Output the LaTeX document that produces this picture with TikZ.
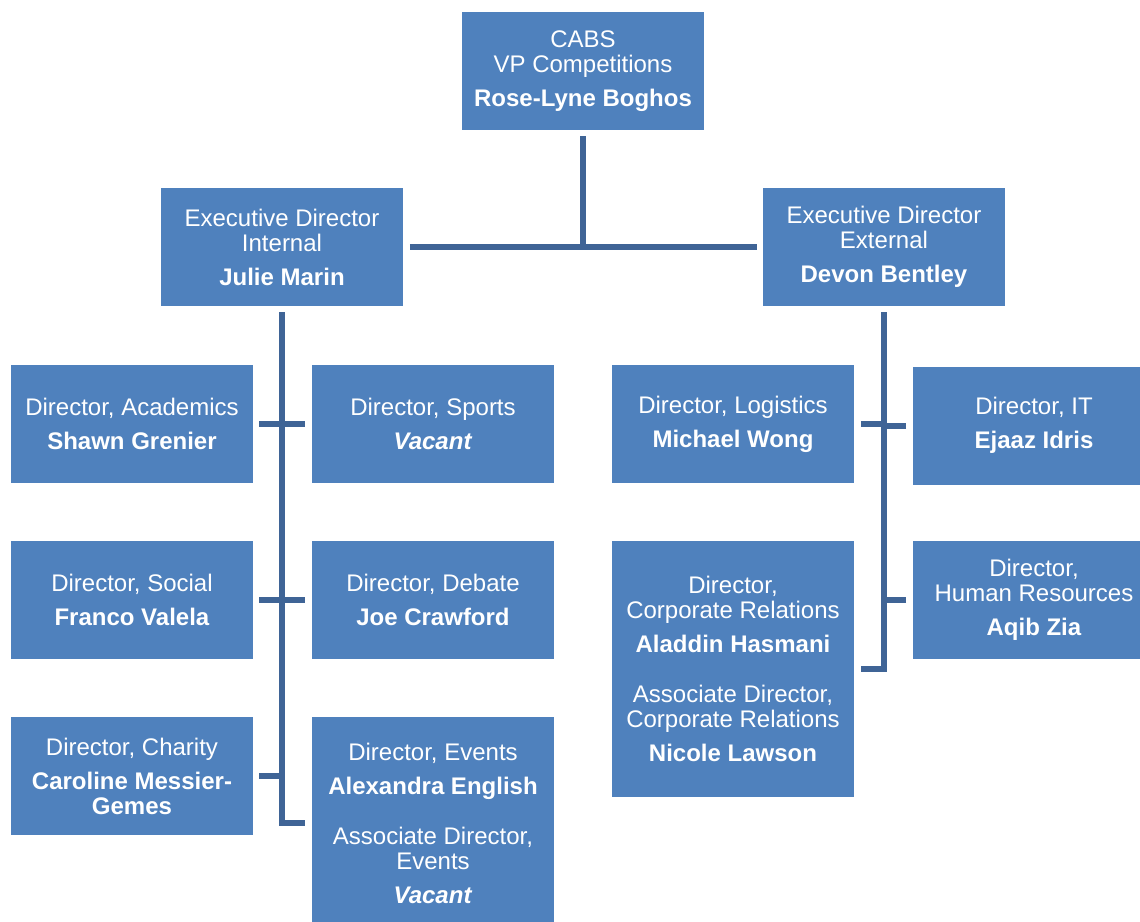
\documentclass[tikz,border=0pt]{standalone}
\usepackage{fontspec}
\setmainfont{Liberation Sans}
\definecolor{boxblue}{RGB}{79,129,189}
\definecolor{linkblue}{RGB}{63,100,150}
\tikzset{
  orgbox/.style={fill=boxblue, minimum width=181.5pt, minimum height=88.5pt, inner sep=0pt,
    text=white, align=center, font=\fontsize{18}{18.75}\selectfont},
  conn/.style={draw=linkblue, line width=4.5pt}
}
\begin{document}
\begin{tikzpicture}[x=0.75pt,y=-0.75pt]
\useasboundingbox (0,0) rectangle (1140,922);
\node[orgbox] (cabs) at (583,71) {CABS\\VP Competitions\\[6.75pt]\textbf{Rose-Lyne Boghos}};
\node[orgbox] (eint) at (282,247) {Executive Director\\Internal\\[6.75pt]\textbf{Julie Marin}};
\node[orgbox] (eext) at (884,247) {Executive Director\\External\\[6.75pt]\textbf{Devon Bentley}};
\node[orgbox] (acad) at (132,424) {Director, Academics\\[6.75pt]\textbf{Shawn Grenier}};
\node[orgbox] (sports) at (433,424) {Director, Sports\\[6.75pt]\textbf{\textit{Vacant}}};
\node[orgbox] (social) at (132,600) {Director, Social\\[6.75pt]\textbf{Franco Valela}};
\node[orgbox] (debate) at (433,600) {Director, Debate\\[6.75pt]\textbf{Joe Crawford}};
\node[orgbox] (charity) at (132,776) {Director, Charity\\[6.75pt]\textbf{Caroline Messier-}\\\textbf{Gemes}};
\node[orgbox, minimum height=159pt] (events) at (433,823) {Director, Events\\[6.75pt]\textbf{Alexandra English}\\[18.75pt]Associate Director,\\Events\\[6.75pt]\textbf{\textit{Vacant}}};
\node[orgbox] (logi) at (733,424) {Director, Logistics\\[6.75pt]\textbf{Michael Wong}};
\node[orgbox] (itd) at (1034,425.5) {Director, IT\\[6.75pt]\textbf{Ejaaz Idris}};
\node[orgbox, minimum height=192pt] (corp) at (733,669) {Director,\\Corporate Relations\\[6.75pt]\textbf{Aladdin Hasmani}\\[18.75pt]Associate Director,\\Corporate Relations\\[6.75pt]\textbf{Nicole Lawson}};
\node[orgbox] (hr) at (1034,600) {Director,\\Human Resources\\[6.75pt]\textbf{Aqib Zia}};
% top connectors
\draw[conn] ([yshift=-4.5pt]cabs.south) -- (cabs.south |- eint.east);
\draw[conn] ([xshift=5pt]eint.east) -- ([xshift=-4.5pt]eext.west);
% left trunk
\draw[conn] ([yshift=-4.5pt]eint.south) |- ([xshift=-5pt]events.west);
\draw[conn] ([xshift=4.5pt]acad.east) -- ([xshift=-5pt]sports.west);
\draw[conn] ([xshift=4.5pt]social.east) -- ([xshift=-5pt]debate.west);
\draw[conn] ([xshift=4.5pt]charity.east) -- (charity.east -| eint.south);
% right trunk
\draw[conn] ([yshift=-4.5pt]eext.south) |- ([xshift=5pt]corp.east);
\draw[conn] ([xshift=5pt]logi.east) -- (logi.east -| eext.south);
\draw[conn] ([xshift=-5pt]itd.west) -- (itd.west -| eext.south);
\draw[conn] ([xshift=-5pt]hr.west) -- (hr.west -| eext.south);
\end{tikzpicture}
\end{document}
